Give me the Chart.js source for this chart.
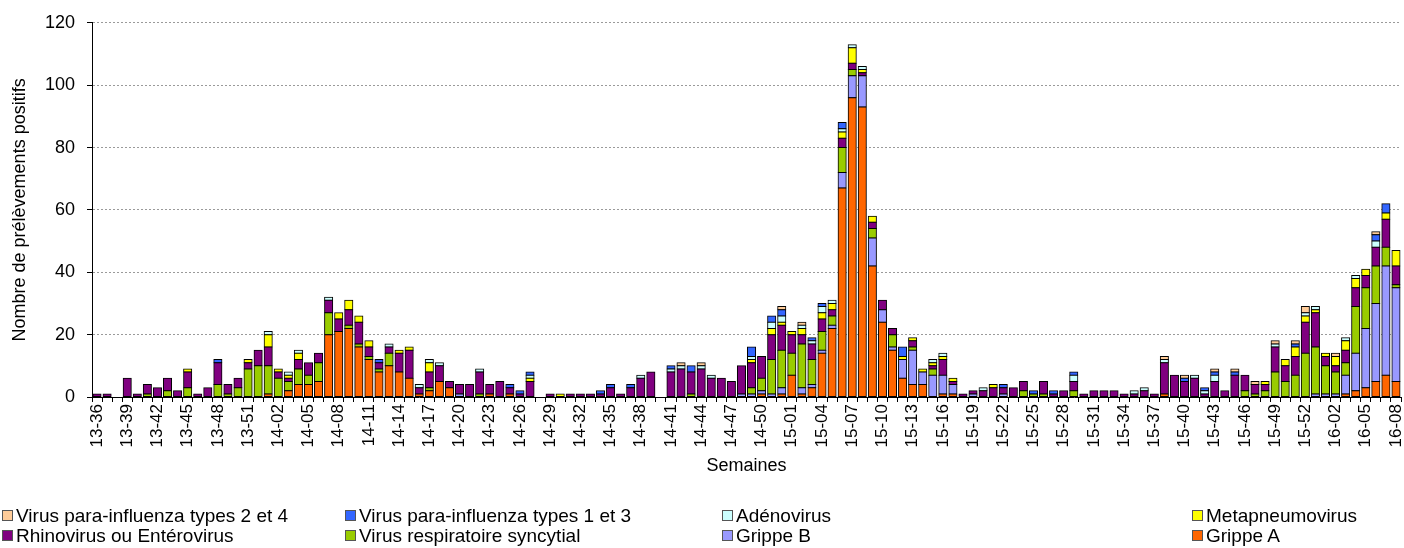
<!DOCTYPE html>
<html>
<head>
<meta charset="utf-8">
<title>Prélèvements positifs par semaine</title>
<script src="https://cdn.jsdelivr.net/npm/chart.js@4.4.1/dist/chart.umd.min.js"></script>
<style>
  html, body { margin: 0; padding: 0; background: #fff; }
  #wrap { position: relative; width: 1404px; height: 548px; }
  #legend { position: absolute; left: 0; top: 506px; width: 1404px; height: 42px;
            font: 19px 'Liberation Sans', Arial, sans-serif; color: #000; }
  .item { position: absolute; white-space: nowrap; line-height: 20px; }
  .box { display: inline-block; width: 9px; height: 9px; border: 1px solid #555;
         margin-right: 3px; vertical-align: 1px; }
</style>
</head>
<body>
<div id="wrap">
  <canvas id="chart" width="1404" height="548"></canvas>
  <div id="legend"></div>
</div>
<script>
function weeks(yy, from, to) {
  const out = [];
  for (let w = from; w <= to; w++) out.push(yy + '-' + String(w).padStart(2, '0'));
  return out;
}

// 13-36 .. 16-08
const semaines = [...weeks(13, 36, 52), ...weeks(14, 1, 52), ...weeks(15, 1, 53), ...weeks(16, 1, 8)];

const grippeA = [
  0,0,0,0,0,0,0,0,0,0,  0,0,0,0,0,0,0,1,0,2,
  4,4,5,20,21,22,16,12,8,10,  8,6,1,2,5,3,0,0,0,1,
  0,1,0,0,0,0,0,0,0,0,  0,0,0,0,0,0,0,0,0,0,
  0,0,0,0,0,0,1,0,1,7,  1,3,14,22,67,96,93,42,24,15,
  6,4,4,0,1,1,0,0,0,0,  0,0,0,0,0,0,0,0,0,0,
  0,0,0,0,0,0,1,0,0,0,  0,0,0,0,0,0,0,0,0,0,
  0,0,0,0,1,2,3,5,7,5
];
const grippeB = [
  0,0,0,0,0,0,0,0,0,0,  0,0,0,0,0,0,0,0,0,0,
  0,0,0,0,0,0,0,0,0,0,  0,0,0,0,0,0,1,0,0,0,
  0,0,0,0,0,0,0,0,0,0,  0,0,0,0,0,0,0,0,0,0,
  0,0,0,0,1,1,1,1,2,0,  2,1,1,1,5,7,10,9,4,1,
  6,11,4,7,6,3,0,1,0,0,  1,0,0,0,0,0,0,0,0,0,
  0,0,0,0,0,0,0,0,0,0,  0,0,0,0,0,0,0,0,0,0,
  0,1,1,1,6,12,19,25,35,30
];
const vrs = [
  0,0,0,0,0,1,0,2,0,3,  0,0,4,1,3,9,10,9,6,3,
  5,3,6,7,0,1,1,1,1,4,  0,0,0,1,0,0,0,0,1,0,
  0,0,0,0,0,0,0,0,0,0,  0,0,0,0,0,0,0,0,0,1,
  0,0,0,0,0,2,4,11,12,7,  14,8,6,3,8,2,0,3,0,4,
  0,1,0,2,0,0,0,0,0,0,  0,0,2,1,1,0,0,2,0,0,
  0,0,0,0,0,0,0,0,0,0,  0,0,0,0,2,1,2,8,5,7,
  14,15,9,7,4,15,13,12,6,1
];
const rhino = [
  1,1,0,6,1,3,3,4,2,5,  1,3,7,3,3,2,5,6,2,1,
  3,4,3,4,4,5,7,3,2,2,  6,9,2,5,5,2,3,4,7,3,
  5,2,1,5,0,1,0,1,1,1,  1,3,1,3,6,8,0,8,9,7,
  9,6,6,5,9,8,7,8,8,6,  3,5,4,2,3,2,1,2,3,2,
  0,2,0,1,5,1,1,1,2,3,  2,3,3,0,4,1,2,3,1,2,
  2,2,1,1,2,1,10,7,5,6,  1,5,2,7,5,3,2,8,5,6,
  10,11,3,2,4,6,4,6,9,6
];
const metapneumo = [
  0,0,0,0,0,0,0,0,0,1,  0,0,0,0,0,1,0,4,1,1,
  2,0,0,0,2,3,2,2,0,0,  1,1,0,3,0,0,0,0,0,0,
  0,0,0,1,0,0,1,0,0,0,  0,0,0,0,0,0,0,0,0,0,
  0,0,0,0,0,1,0,2,1,1,  2,0,2,2,2,5,1,2,0,0,
  1,1,1,1,1,1,0,0,0,1,  0,0,0,0,0,0,0,0,0,0,
  0,0,0,0,0,0,0,0,0,0,  0,0,0,0,0,0,1,0,2,3,
  2,1,1,3,3,3,2,0,2,5
];
const adeno = [
  0,0,0,0,0,0,0,0,0,0,  0,0,0,0,0,0,0,1,0,1,
  1,0,0,1,0,0,0,0,0,1,  0,0,1,1,1,0,0,0,1,0,
  0,0,0,1,0,0,0,0,0,0,  0,0,0,0,1,0,0,1,1,0,
  1,1,0,0,0,1,0,2,2,0,  1,1,2,1,1,1,1,0,0,0,
  0,0,0,1,1,0,0,0,1,0,  0,0,0,0,0,0,0,2,0,0,
  0,0,0,1,1,0,1,0,0,1,  1,2,0,0,0,0,0,1,0,0,
  1,1,0,0,1,1,0,2,0,0
];
const piv13 = [
  0,0,0,0,0,0,0,0,0,0,  0,0,1,0,0,0,0,0,0,0,
  0,0,0,0,0,0,0,0,1,0,  0,0,0,0,0,0,0,0,0,0,
  0,1,1,1,0,0,0,0,0,0,  1,1,0,1,0,0,0,1,0,2,
  0,0,0,0,0,3,0,2,2,0,  0,1,1,0,2,0,0,0,0,0,
  3,0,0,0,0,0,0,0,0,0,  1,0,0,1,0,1,0,1,0,0,
  0,0,0,0,0,0,0,0,1,0,  1,1,0,1,0,0,0,0,0,1,
  0,0,0,0,0,0,0,2,3,0
];
const piv24 = [
  0,0,0,0,0,0,0,0,0,0,  0,0,0,0,0,0,0,0,0,0,
  0,0,0,0,0,0,0,0,0,0,  0,0,0,0,0,0,0,0,0,0,
  0,0,0,0,0,0,0,0,0,0,  0,0,0,0,0,0,0,0,1,0,
  1,0,0,0,0,0,0,0,1,0,  1,0,0,0,0,0,0,0,0,0,
  0,0,0,0,0,0,0,0,0,0,  0,0,0,0,0,0,0,0,0,0,
  0,0,0,0,0,0,1,0,1,0,  0,1,0,1,0,1,0,1,0,1,
  2,0,0,1,0,0,0,1,0,0
];

const yTicks = [0, 20, 40, 60, 80, 100, 120];

// bottom to top of each stack
const series = [
  { label: 'Grippe A', data: grippeA, color: '#FF6600' },
  { label: 'Grippe B', data: grippeB, color: '#9999FF' },
  { label: 'Virus respiratoire syncytial', data: vrs, color: '#99CC00' },
  { label: 'Rhinovirus ou Entérovirus', data: rhino, color: '#800080' },
  { label: 'Metapneumovirus', data: metapneumo, color: '#FFFF00' },
  { label: 'Adénovirus', data: adeno, color: '#CCFFFF' },
  { label: 'Virus para-influenza types 1 et 3', data: piv13, color: '#3366FF' },
  { label: 'Virus para-influenza types 2 et 4', data: piv24, color: '#FFCC99' }
];

// legend layout: [label, column, row]
const legendSlots = [
  ['Virus para-influenza types 2 et 4', 0, 0],
  ['Virus para-influenza types 1 et 3', 1, 0],
  ['Adénovirus', 2, 0],
  ['Metapneumovirus', 3, 0],
  ['Rhinovirus ou Entérovirus', 0, 1],
  ['Virus respiratoire syncytial', 1, 1],
  ['Grippe B', 2, 1],
  ['Grippe A', 3, 1]
];
const legendCols = [2, 345, 722, 1192];

const FONT = "'Liberation Sans', Arial, sans-serif";
Chart.defaults.color = '#000';
Chart.defaults.font.family = FONT;

const ctx = document.getElementById('chart').getContext('2d');
const chart = new Chart(ctx, {
  type: 'bar',
  data: {
    labels: semaines,
    datasets: series.map(s => ({
      label: s.label,
      data: s.data,
      backgroundColor: s.color,
      borderColor: '#000',
      borderWidth: 1,
      borderSkipped: false,
      inflateAmount: 0.5,   // borders shared between stacked segments
      barPercentage: 0.8,
      categoryPercentage: 1
    }))
  },
  options: {
    responsive: false,
    animation: false,
    layout: { padding: { left: 6, right: 3, top: 21, bottom: 68 } },
    plugins: { legend: { display: false }, tooltip: { enabled: false } },
    scales: {
      x: {
        stacked: true,
        offset: true,
        afterFit: scale => {
          scale.height = 83;
          scale.paddingLeft = 0;
          scale.paddingRight = 0;
        },
        grid: { display: true, drawOnChartArea: false, offset: true, color: '#000', tickLength: 5 },
        border: { color: '#000', width: 1 },
        ticks: {
          autoSkip: false,
          minRotation: 90,
          maxRotation: 90,
          padding: 2,
          font: { size: 17 },
          callback: (v, i) => (i % 3 === 0 ? semaines[i] : '')
        },
        title: { display: true, text: 'Semaines', font: { size: 18 }, padding: { top: 4, bottom: 3 } }
      },
      y: {
        stacked: true,
        min: 0,
        max: 120,
        afterFit: scale => { scale.width = 86; },
        afterBuildTicks: scale => { scale.ticks = yTicks.map(v => ({ value: v })); },
        grid: {
          color: c => (c.tick && c.tick.value === 0 ? 'rgba(0,0,0,0)' : '#9a9a9a'),
          tickColor: '#000',
          tickLength: 5
        },
        border: { color: '#000', width: 1, dash: [2, 2] },
        ticks: { font: { size: 18 }, padding: 12 },
        title: { display: true, text: 'Nombre de prélèvements positifs', font: { size: 18 }, padding: { top: 3, bottom: 4 } }
      }
    }
  }
});

// legend in fixed columns like the original
const legendEl = document.getElementById('legend');
legendSlots.forEach(([label, col, row]) => {
  const ds = chart.data.datasets.find(d => d.label === label);
  const item = document.createElement('div');
  item.className = 'item';
  item.style.left = legendCols[col] + 'px';
  item.style.top = (row * 20) + 'px';
  item.innerHTML = '<span class="box" style="background:' + ds.backgroundColor + '"></span>' + label;
  legendEl.appendChild(item);
});
</script>
</body>
</html>
